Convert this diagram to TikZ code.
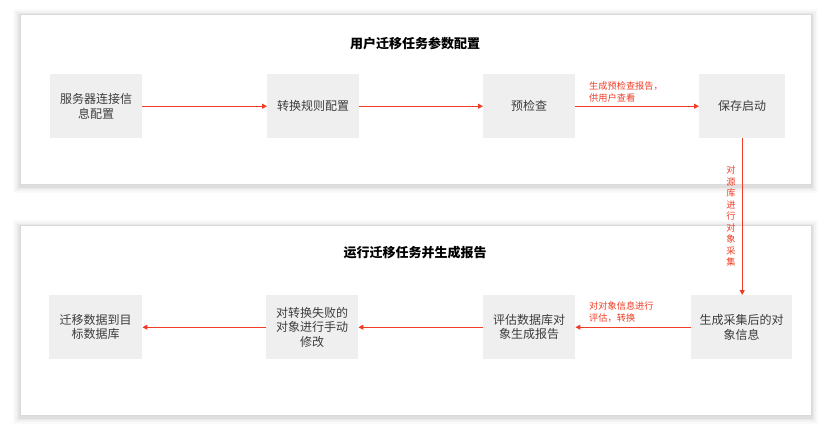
\documentclass[tikz,border=0pt]{standalone}
\usepackage{fontspec}
\newfontfamily\cjk{Noto Sans CJK SC}
\usetikzlibrary{arrows.meta}
\definecolor{boxgray}{RGB}{239,239,239}
\definecolor{txtgray}{RGB}{60,60,60}
\definecolor{arrred}{RGB}{240,60,36}
\definecolor{panelline}{RGB}{218,218,218}
\tikzset{
  px/.style={x=1pt,y=-1pt},
  panel/.style={draw=panelline,line width=0.8pt,fill=white},
  stepbox/.style={fill=boxgray,draw=none,minimum width=92pt,minimum height=64pt,inner sep=0pt,
    font=\cjk\fontsize{12}{14.5}\selectfont,text=txtgray,align=center,anchor=north west},
  ttl/.style={font=\cjk\bfseries\fontsize{13}{15}\selectfont,text=black},
  lbl/.style={font=\cjk\fontsize{9.2}{11.5}\selectfont,text=arrred,align=left,anchor=west,inner sep=0pt},
  flow/.style={draw=arrred,line width=0.9pt,-{Triangle[length=5pt,width=5pt]}}
}
\begin{document}
\begin{tikzpicture}[px]
\useasboundingbox (0,0) rectangle (831,429);
\fill[white] (0,0) rectangle (831,429);
% shadows
\foreach \s/\o in {7/0.02,5/0.03,3/0.04,1.5/0.04}{
  \fill[black,opacity=\o] (20-\s,14-\s+2) rectangle (811+\s,184+\s+2);
  \fill[black,opacity=\o] (20-\s,225-\s+2) rectangle (811+\s,415+\s+2);
}
\draw[panel] (20,14) rectangle (811,184);
\draw[panel] (20,225) rectangle (811,415);
% titles
\node[ttl] (t1) at (415,44) {用户迁移任务参数配置};
\node[ttl] (t2) at (415,253) {运行迁移任务并生成报告};
% top row
\node[stepbox] (a1) at (50,74) {服务器连接信\\息配置};
\node[stepbox] (a2) at (267,74) {转换规则配置};
\node[stepbox] (a3) at (483,74) {预检查};
\node[stepbox,minimum width=86pt] (a4) at (699,74) {保存启动};
% bottom row
\node[stepbox,minimum width=93pt] (b1) at (49,295) {迁移数据到目\\标数据库};
\node[stepbox] (b2) at (266,295) {对转换失败的\\对象进行手动\\修改};
\node[stepbox] (b3) at (483,295) {评估数据库对\\象生成报告};
\node[stepbox,minimum width=101pt] (b4) at (691,295) {生成采集后的对\\象信息};
% arrows
\draw[flow] (a1) -- (a2);
\draw[flow] (a2) -- (a3);
\draw[flow] (a3) -- (a4);
\draw[flow] (a4.south) -- (a4.south |- b4.north);
\draw[flow] (b4) -- (b3);
\draw[flow] (b3) -- (b2);
\draw[flow] (b2) -- (b1);
% labels
\node[lbl] (l1) at (589,92) {生成预检查报告，\\供用户查看};
\node[lbl] (l2) at (589,312) {对对象信息进行\\评估，转换};
\node[font=\cjk\fontsize{9.2}{11.5}\selectfont,text=arrred,align=center,inner sep=0pt] (l3) at (731,216)
  {对\\源\\库\\进\\行\\对\\象\\采\\集};
\end{tikzpicture}
\end{document}
